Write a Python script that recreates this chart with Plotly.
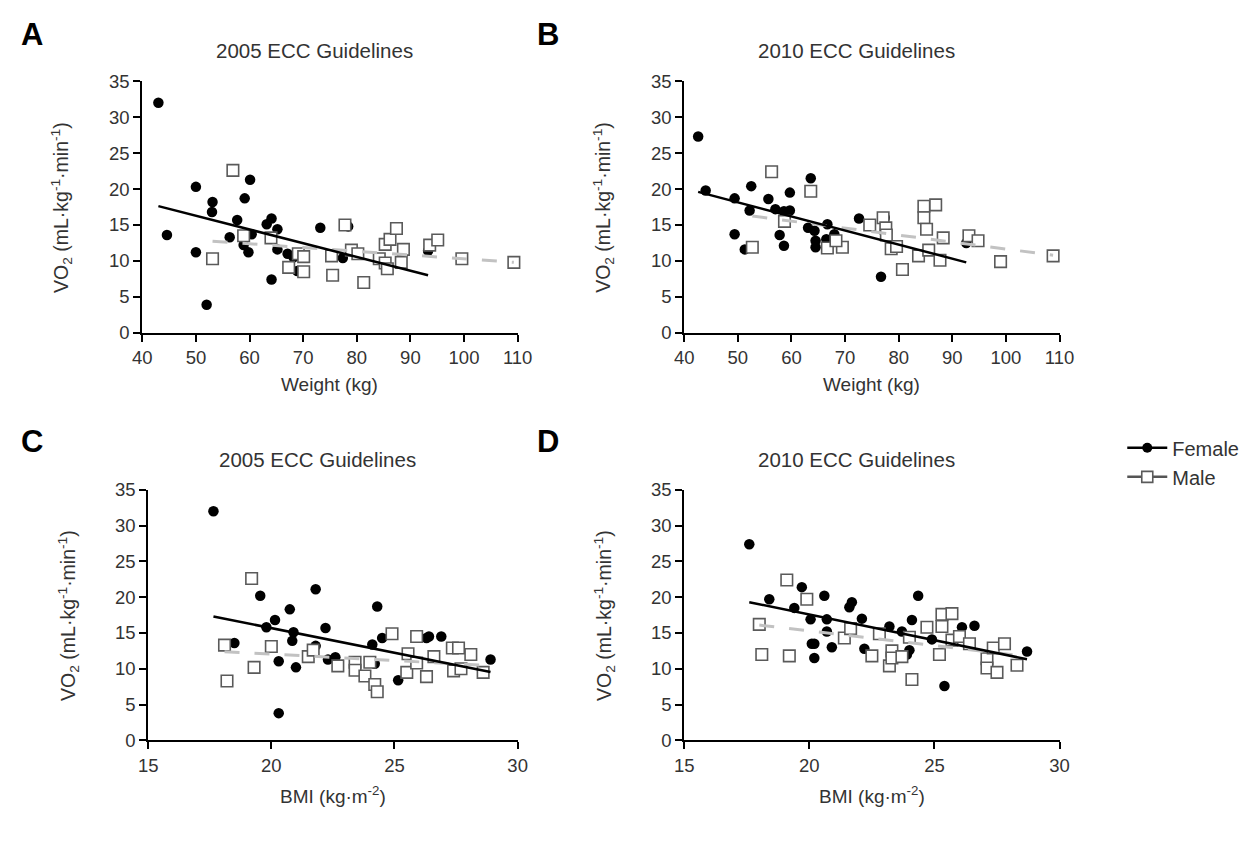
import plotly.graph_objects as go

# ---------------- data ----------------
# Panel A: 2005 ECC guidelines, VO2 vs weight
wA_f = [43.0, 44.6, 50.0, 50.0, 52.0, 53.1, 53.0, 56.3, 57.7, 60.1, 59.1, 59.8, 60.4, 58.9, 63.2, 64.1, 65.2, 64.1, 65.2, 67.1, 68.2, 68.9, 73.2, 78.4, 77.4, 93.3]
vA_f = [32.0, 13.6, 20.3, 11.2, 3.9, 18.2, 16.8, 13.3, 15.7, 21.3, 18.7, 11.2, 13.7, 12.2, 15.1, 15.9, 14.4, 7.4, 11.6, 11.0, 10.5, 8.6, 14.6, 14.8, 10.4, 11.4]
wA_m = [56.9, 53.1, 58.9, 64.0, 67.3, 69.1, 70.1, 70.1, 75.3, 75.5, 77.8, 79.0, 80.2, 81.3, 84.2, 85.3, 85.7, 85.3, 86.2, 87.4, 88.7, 88.3, 93.6, 95.1, 99.6, 109.3]
vA_m = [22.6, 10.3, 13.5, 13.2, 9.1, 11.0, 10.6, 8.5, 10.7, 8.0, 15.0, 11.5, 11.0, 7.0, 10.3, 9.7, 8.9, 12.3, 13.0, 14.5, 11.6, 9.8, 12.2, 12.9, 10.3, 9.8]

# Panel B: 2010 ECC guidelines, VO2 vs weight
wB_f = [42.6, 44.0, 49.4, 52.5, 52.2, 49.4, 51.3, 55.7, 57.0, 57.8, 58.6, 59.7, 59.7, 58.6, 63.6, 63.1, 64.3, 64.5, 64.5, 66.7, 66.5, 68.0, 67.1, 72.6, 77.4, 76.7, 92.6]
vB_f = [27.3, 19.8, 18.7, 20.4, 17.0, 13.7, 11.6, 18.6, 17.2, 13.6, 12.1, 19.5, 17.0, 16.9, 21.5, 14.6, 14.2, 12.8, 11.9, 15.1, 13.0, 13.7, 12.8, 15.9, 16.0, 7.8, 12.5]
wB_m = [56.3, 63.6, 52.7, 58.7, 66.7, 69.5, 68.3, 74.6, 77.1, 77.6, 77.7, 78.6, 79.6, 80.7, 83.7, 84.7, 86.9, 84.7, 85.2, 85.6, 87.7, 88.3, 93.1, 94.8, 99.0, 108.8]
vB_m = [22.4, 19.7, 11.9, 15.5, 11.8, 11.9, 12.8, 15.0, 16.0, 14.6, 13.6, 11.7, 12.0, 8.8, 10.7, 17.6, 17.8, 16.0, 14.4, 11.5, 10.1, 13.2, 13.5, 12.8, 9.9, 10.7]

# Panel C: 2005 ECC guidelines, VO2 vs BMI
bC_f = [17.65, 18.5, 19.55, 19.8, 20.15, 20.3, 20.3, 20.75, 20.9, 20.85, 21.0, 21.8, 21.8, 22.2, 22.3, 22.6, 24.1, 24.3, 24.5, 24.2, 25.15, 26.3, 26.4, 26.9, 28.9]
vC_f = [32.0, 13.6, 20.2, 15.8, 16.8, 11.05, 3.8, 18.3, 15.1, 13.9, 10.2, 21.1, 13.2, 15.7, 11.3, 11.6, 13.4, 18.7, 14.3, 10.7, 8.4, 14.3, 14.5, 14.5, 11.3]
bC_m = [19.2, 18.1, 18.2, 19.3, 20.0, 21.5, 21.7, 22.7, 23.4, 23.4, 23.8, 24.0, 24.2, 24.3, 24.9, 25.55, 25.5, 25.9, 25.9, 26.3, 26.6, 27.35, 27.6, 27.4, 27.7, 28.1, 28.6]
vC_m = [22.6, 13.3, 8.3, 10.2, 13.1, 11.7, 12.6, 10.4, 10.9, 9.8, 9.0, 10.9, 7.8, 6.8, 14.9, 12.1, 9.5, 10.8, 14.5, 8.9, 11.7, 12.9, 12.9, 9.7, 10.0, 12.0, 9.5]

# Panel D: 2010 ECC guidelines, VO2 vs BMI
bD_f = [17.6, 18.4, 19.7, 19.4, 20.05, 20.1, 20.2, 20.2, 20.6, 20.7, 20.7, 20.9, 21.6, 21.7, 22.1, 22.2, 23.2, 23.7, 24.0, 23.9, 24.1, 24.35, 24.9, 25.4, 26.1, 26.6, 28.7]
vD_f = [27.4, 19.7, 21.4, 18.5, 16.9, 13.5, 13.5, 11.5, 20.2, 16.9, 15.2, 13.0, 18.6, 19.3, 17.0, 12.8, 15.9, 15.2, 12.6, 12.0, 16.8, 20.2, 14.1, 7.6, 15.8, 16.0, 12.4]
bD_m = [19.1, 19.9, 18.0, 18.1, 19.2, 21.4, 21.65, 22.5, 22.8, 23.2, 23.3, 23.3, 23.7, 24.0, 24.1, 24.7, 25.2, 25.3, 25.7, 25.3, 25.7, 26.0, 26.4, 27.1, 27.35, 27.1, 27.5, 27.8, 28.3]
vD_m = [22.4, 19.7, 16.2, 12.0, 11.8, 14.3, 15.6, 11.8, 14.9, 10.4, 12.5, 11.5, 11.7, 14.4, 8.5, 15.8, 12.0, 17.6, 17.7, 15.9, 14.0, 14.5, 13.5, 11.4, 12.9, 10.1, 9.5, 13.5, 10.5]

# linear regression lines (slope, intercept) as drawn in the figure
fitA_f = [-0.191, 25.83]
fitA_m = [-0.0524, 15.53]
fitB_f = [-0.196, 27.95]
fitB_m = [-0.097, 21.35]
fitC_f = [-0.689, 29.46]
fitC_m = [-0.181, 15.67]
fitD_f = [-0.718, 31.94]
fitD_m = [-0.41, 23.48]

panel_letters = ["A", "B", "C", "D"]
panel_titles = ["2005 ECC Guidelines", "2010 ECC Guidelines", "2005 ECC Guidelines", "2010 ECC Guidelines"]
weight_ticks = [40, 50, 60, 70, 80, 90, 100, 110]
bmi_ticks = [15, 20, 25, 30]
vo2_ticks = [0, 5, 10, 15, 20, 25, 30, 35]

# ---------------- layout helpers ----------------
W, H = 1248, 843
FONT = "Liberation Sans, Arial, Helvetica, sans-serif"
TXT = "#333333"

def px(x):
    return x / W

def py(y):
    return 1 - y / H

panels = [
    dict(xd=(135, 518), yd=(72, 330), xr=[40, 110], xt=weight_ticks, xf=wA_f, yf=vA_f, xm=wA_m, ym=vA_m,
         ff=fitA_f, fm=fitA_m, xtitle="Weight (kg)", lx=22, ly=24, xty=383),
    dict(xd=(688, 1071), yd=(72, 330), xr=[40, 110], xt=weight_ticks, xf=wB_f, yf=vB_f, xm=wB_m, ym=vB_m,
         ff=fitB_f, fm=fitB_m, xtitle="Weight (kg)", lx=549, ly=24, xty=383),
    dict(xd=(141, 518), yd=(491, 748), xr=[15, 30], xt=bmi_ticks, xf=bC_f, yf=vC_f, xm=bC_m, ym=vC_m,
         ff=fitC_f, fm=fitC_m, xtitle="BMI (kg·m<sup>-2</sup>)", lx=22, ly=442, xty=804),
    dict(xd=(688, 1071), yd=(491, 748), xr=[15, 30], xt=bmi_ticks, xf=bD_f, yf=vD_f, xm=bD_m, ym=vD_m,
         ff=fitD_f, fm=fitD_m, xtitle="BMI (kg·m<sup>-2</sup>)", lx=549, ly=442, xty=804),
]

fig = go.Figure()
annotations = []
layout_axes = {}

female_marker = dict(symbol="circle", size=10.5, color="black", line=dict(width=0))
male_marker = dict(symbol="square", size=11.5, color="white", line=dict(color="#5a5a5a", width=1.6))

for i, p in enumerate(panels):
    n = "" if i == 0 else str(i + 1)
    xa, ya = "x" + n, "y" + n
    # scatter points
    fig.add_trace(go.Scatter(x=p["xf"], y=p["yf"], mode="markers", marker=female_marker,
                             xaxis=xa, yaxis=ya, showlegend=False, cliponaxis=False))
    fig.add_trace(go.Scatter(x=p["xm"], y=p["ym"], mode="markers", marker=male_marker,
                             xaxis=xa, yaxis=ya, showlegend=False, cliponaxis=False))
    # regression lines
    xm0, xm1 = min(p["xm"]), max(p["xm"])
    fig.add_trace(go.Scatter(x=[xm0, xm1], y=[p["fm"][0] * xm0 + p["fm"][1], p["fm"][0] * xm1 + p["fm"][1]],
                             mode="lines", line=dict(color="#c2c2c2", width=3, dash="longdash"),
                             xaxis=xa, yaxis=ya, showlegend=False, cliponaxis=False))
    xf0, xf1 = min(p["xf"]), max(p["xf"])
    fig.add_trace(go.Scatter(x=[xf0, xf1], y=[p["ff"][0] * xf0 + p["ff"][1], p["ff"][0] * xf1 + p["ff"][1]],
                             mode="lines", line=dict(color="black", width=2.5),
                             xaxis=xa, yaxis=ya, showlegend=False, cliponaxis=False))

    axis_common = dict(showline=True, linecolor="black", linewidth=2, ticks="outside", ticklen=7,
                       tickwidth=2, tickcolor="black", showgrid=False, zeroline=False,
                       tickfont=dict(family=FONT, size=18.5, color=TXT), fixedrange=True)
    layout_axes["xaxis" + n] = dict(axis_common, domain=[px(p["xd"][0]), px(p["xd"][1])], range=p["xr"],
                                    tickmode="array", tickvals=p["xt"], anchor=ya)
    layout_axes["yaxis" + n] = dict(axis_common, domain=[py(p["yd"][1]), py(p["yd"][0])], range=[0, 35],
                                    tickmode="array", tickvals=vo2_ticks, anchor=xa)

    xc = (p["xd"][0] + p["xd"][1]) / 2
    yc = (p["yd"][0] + p["yd"][1]) / 2
    # panel letter
    annotations.append(dict(text="<b>%s</b>" % panel_letters[i], x=px(p["lx"]), y=py(p["ly"]),
                            xref="paper", yref="paper", showarrow=False,
                            xanchor="center", yanchor="middle", font=dict(family=FONT, size=31, color="black")))
    # panel title
    annotations.append(dict(text=panel_titles[i], x=px(xc - 16), y=py(p["yd"][0] - 31), xref="paper", yref="paper",
                            showarrow=False, xanchor="center", yanchor="middle",
                            font=dict(family=FONT, size=20.5, color=TXT)))
    # x title
    annotations.append(dict(text=p["xtitle"], x=px(xc), y=py(p["xty"]), xref="paper", yref="paper",
                            showarrow=False, xanchor="center", yanchor="middle",
                            font=dict(family=FONT, size=19, color=TXT)))
    # y title
    annotations.append(dict(text="VO<sub>2</sub> (mL·kg<sup>-1</sup>·min<sup>-1</sup>)", textangle=-90,
                            x=px(p["xd"][0] - 82), y=py(yc), xref="paper", yref="paper",
                            showarrow=False, xanchor="center", yanchor="middle",
                            font=dict(family=FONT, size=19.5, color=TXT)))

# legend entries
fig.add_trace(go.Scatter(x=[None], y=[None], mode="lines+markers", name="Female",
                         line=dict(color="black", width=2.5), marker=dict(symbol="circle", size=10, color="black")))
fig.add_trace(go.Scatter(x=[None], y=[None], mode="lines+markers", name="Male",
                         line=dict(color="#555555", width=2.5),
                         marker=dict(symbol="square", size=11, color="white", line=dict(color="#5a5a5a", width=1.6))))

fig.update_layout(
    width=W, height=H,
    margin=dict(l=0, r=0, t=0, b=0),
    paper_bgcolor="white", plot_bgcolor="white",
    showlegend=True,
    legend=dict(x=px(1135), y=py(428), xanchor="left", yanchor="top", bgcolor="rgba(0,0,0,0)",
                font=dict(family=FONT, size=20, color=TXT), tracegroupgap=8, itemwidth=40),
    annotations=annotations,
    **layout_axes,
)

fig.write_html("out.html")
